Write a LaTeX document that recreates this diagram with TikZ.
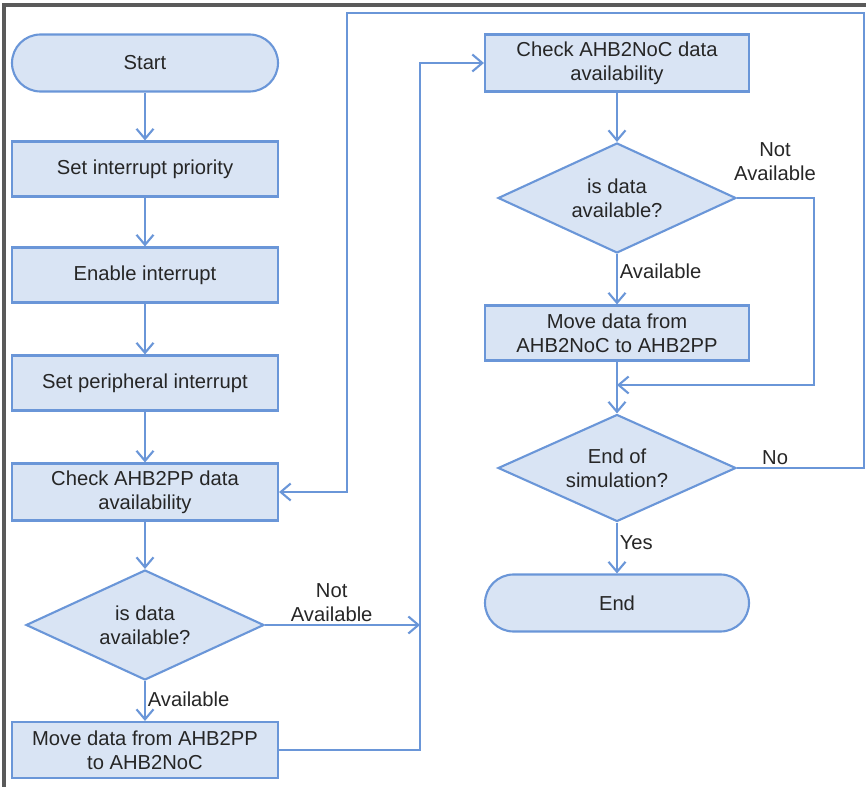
\documentclass[tikz,border=0pt]{standalone}
\usepackage{fontspec}
\setmainfont{Liberation Sans}
\definecolor{FlowBlue}{HTML}{6A96D8}
\definecolor{FlowFill}{HTML}{D9E4F4}
\definecolor{FlowText}{HTML}{262626}
\definecolor{FrameGray}{HTML}{5A5A5A}
\usetikzlibrary{shapes.geometric, arrows.meta, positioning, calc}

\begin{document}
\begin{tikzpicture}[
        box/.style={draw=FlowBlue, fill=FlowFill, line width=1.2pt, minimum width=5.32cm, minimum height=1.1cm, align=center, text=FlowText, font=\fontsize{11.5}{13.8}\selectfont, inner sep=2pt},
        term/.style={box, rounded corners=0.57cm, minimum height=1.14cm},
        decision/.style={box, diamond, aspect=2.16, minimum width=4.76cm, minimum height=2.2cm, inner sep=0pt},
        arr/.style={-{Straight Barb[length=2mm, width=3.4mm]}, line width=1.2pt, FlowBlue},
        lbl/.style={text=FlowText, font=\fontsize{11.5}{13.8}\selectfont, align=center, inner sep=1pt}
    ]
        \useasboundingbox (0,0) rectangle (17.32,-15.74);
        % screenshot frame
        \draw[FrameGray, line width=2pt] (0.08,-15.74) -- (0.08,-0.1) -- (17.32,-0.1);

        % left column
        \node[term]     (start)  at (2.9,-1.26)  {Start};
        \node[box]      (prio)   at (2.9,-3.38)  {Set interrupt priority};
        \node[box]      (enable) at (2.9,-5.5)   {Enable interrupt};
        \node[box]      (periph) at (2.9,-7.66)  {Set peripheral interrupt};
        \node[box, minimum height=1.14cm] (chkpp) at (2.9,-9.84) {Check AHB2PP data\\availability};
        \node[decision] (dec1)   at (2.9,-12.5) {is data\\available?};
        \node[box, minimum height=1.12cm] (movepp) at (2.9,-15.0) {Move data from AHB2PP\\to AHB2NoC};

        % right column
        \node[box, minimum width=5.28cm, minimum height=1.14cm] (chknoc) at (12.34,-1.26) {Check AHB2NoC data\\availability};
        \node[decision] (dec2)   at (12.34,-3.96) {is data\\available?};
        \node[box, minimum width=5.28cm] (movenoc) at (12.34,-6.66) {Move data from\\AHB2NoC to AHB2PP};
        \node[decision, minimum height=2.14cm] (dec3) at (12.34,-9.36) {End of\\simulation?};
        \node[term, minimum width=5.28cm] (stop) at (12.34,-12.06) {End};

        % helper points
        \coordinate (bus)   at (8.4,0);
        \coordinate (merge) at (12.34,-7.7);
        \coordinate (back)  at (6.94,-0.26);

        \draw[arr] (start) -- (prio); \draw[arr] (prio) -- (enable);
        \draw[arr] (enable) -- (periph); \draw[arr] (periph) -- (chkpp);
        \draw[arr] (chkpp) -- (dec1);
        \draw[arr] (dec1) -- node[lbl, right, pos=0.45] {Available} (movepp);
        \draw[arr] (dec1.east) -- node[lbl, above, pos=0.43] {Not\\Available} (bus |- dec1);
        \draw[arr] (movepp.east) -| (bus |- chknoc) -- (chknoc.west);

        \draw[arr] (chknoc) -- (dec2);
        \draw[arr] (dec2) -- node[lbl, right, pos=0.35] {Available} (movenoc);
        \draw[arr] (dec2.east) -- ++(1.54,0) |- (merge);
        \node[lbl] (na2) at (15.5,-3.24) {Not\\Available};
        \draw[arr] (movenoc) -- (dec3);
        \draw[arr] (dec3.east) -- node[lbl, above, pos=0.3] {No} ++(2.54,0) |- (back) |- (chkpp.east);
        \draw[arr] (dec3) -- node[lbl, right, pos=0.4] {Yes} (stop);
    \end{tikzpicture}
\end{document}
